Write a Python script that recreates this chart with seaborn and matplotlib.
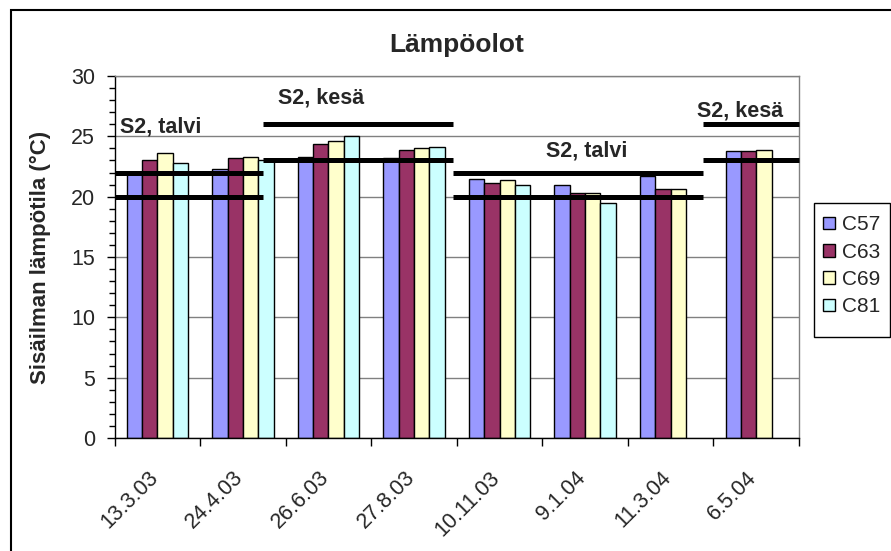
import matplotlib
matplotlib.use("Agg")
import matplotlib.pyplot as plt
import matplotlib.transforms as mtransforms
from matplotlib.patches import Patch, Rectangle
import numpy as np
import pandas as pd
import seaborn as sns

# Measurement dates and sensors
dates = ["13.3.03", "24.4.03", "26.6.03", "27.8.03", "10.11.03", "9.1.04", "11.3.04", "6.5.04"]
sensors = ["C57", "C63", "C69", "C81"]

# Indoor air temperature (°C) per sensor; None = no reading
c57 = [22.0, 22.3, 23.3, 23.2, 21.5, 21.0, 21.7, 23.8]
c63 = [23.0, 23.2, 24.4, 23.9, 21.1, 20.3, 20.6, 23.8]
c69 = [23.6, 23.3, 24.6, 24.0, 21.4, 20.3, 20.6, 23.9]
c81 = [22.8, 23.0, 25.0, 24.1, 21.0, 19.5, None, None]

# S2 target ranges by season: label, span in category units, lower and upper limit
season_labels = ["S2, talvi", "S2, kesä", "S2, talvi", "S2, kesä"]
season_start = [-0.5, 1.232, 3.46, 6.382]
season_end = [1.232, 3.46, 6.382, 7.5]
season_low = [20, 23, 20, 23]
season_high = [22, 26, 22, 26]

colors = ["#9999FF", "#993366", "#FFFFCC", "#CCFFFF"]

rows = []
for name, vals in zip(sensors, [c57, c63, c69, c81]):
    for d, v in zip(dates, vals):
        if v is not None:
            rows.append({"Päivä": d, "Anturi": name, "Lämpötila": v})
df = pd.DataFrame(rows)

sns.set_style("white")
plt.rcParams["font.family"] = ["Liberation Sans", "DejaVu Sans"]

fig = plt.figure(figsize=(8.91, 5.51), dpi=100)
ax = fig.add_axes([114.5 / 891, 1 - 438 / 551, (799 - 114.5) / 891, (438 - 76) / 551])

sns.barplot(
    data=df, x="Päivä", y="Lämpötila", hue="Anturi",
    order=dates, hue_order=sensors, palette=colors, saturation=1,
    width=0.717, edgecolor="black", linewidth=1.0,
    errorbar=None, legend=False, ax=ax, zorder=2,
)

ax.set_xlim(-0.5, len(dates) - 0.5)
ax.set_ylim(0, 30)
ax.set_yticks(np.arange(0, 31, 5))
ax.set_yticks(np.arange(0, 31, 1), minor=True)
ax.yaxis.grid(True, which="major", color="#808080", linewidth=1.0, zorder=0)
ax.set_axisbelow(True)
ax.set_xlabel("")
ax.set_ylabel("")

# Category boundaries carry the x tick marks
ax.set_xticks(np.arange(-0.5, len(dates), 1), minor=True)
ax.tick_params(axis="x", which="major", length=0, labelsize=15.5, pad=21)
ax.tick_params(axis="x", which="minor", length=6, width=1, color="black", direction="out", bottom=True)
ax.tick_params(axis="y", which="major", length=6, width=1, color="black", direction="out",
               labelsize=15.5, pad=8, left=True)
ax.tick_params(axis="y", which="minor", length=4, width=1, color="black", direction="out", left=True)

ax.set_xticks(range(len(dates)))
ax.set_xticklabels(dates, rotation=45, ha="right", va="top", rotation_mode="anchor")
shift = mtransforms.ScaledTranslation(-10 / 100, 0, fig.dpi_scale_trans)
for lab in ax.get_xticklabels():
    lab.set_transform(lab.get_transform() + shift)

for side in ["left", "bottom"]:
    ax.spines[side].set_color("black")
    ax.spines[side].set_linewidth(1.0)
for side in ["top", "right"]:
    ax.spines[side].set_color("#808080")
    ax.spines[side].set_linewidth(1.0)

# Seasonal target limits
for x0, x1, lo, hi in zip(season_start, season_end, season_low, season_high):
    ax.plot([x0, x1], [lo, lo], color="black", linewidth=3.6, solid_capstyle="butt", zorder=5, clip_on=False)
    ax.plot([x0, x1], [hi, hi], color="black", linewidth=3.6, solid_capstyle="butt", zorder=5, clip_on=False)

label_pos = [(-0.436, 25.8, "left"), (1.913, 28.2, "center"), (5.016, 23.75, "center"), (6.81, 27.07, "center")]
for text, (lx, ly, ha) in zip(season_labels, label_pos):
    ax.text(lx, ly, text, ha=ha, va="center", fontsize=15.5, fontweight="bold", zorder=6)

fig.text(457 / 891, 1 - 45 / 551, "Lämpöolot", ha="center", va="center", fontsize=19, fontweight="bold")
fig.text(40 / 891, 1 - 257 / 551, "Sisäilman lämpötila (°C)", ha="center", va="center",
         rotation=90, fontsize=16, fontweight="bold")

handles = [Patch(facecolor=c, edgecolor="black", linewidth=1.0) for c in colors]
leg = fig.legend(
    handles, sensors, loc="upper left", bbox_to_anchor=(814 / 891, 1 - 206 / 551),
    frameon=False, fontsize=15,
    handlelength=0.55, handleheight=0.55, handletextpad=0.35, labelspacing=0.4,
    borderpad=0.45, borderaxespad=0,
)

# Legend box
fig.patches.append(Rectangle((814 / 891, 1 - 337 / 551), (890 - 814) / 891, (337 - 203) / 551,
                             transform=fig.transFigure, fill=False, edgecolor="black", linewidth=1.0))

# Chart frame
fig.patches.append(Rectangle((11 / 891, -0.05), 1.2, 1 - 10 / 551 + 0.05, transform=fig.transFigure,
                             fill=False, edgecolor="black", linewidth=1.5))

fig.savefig("out.png", dpi=100)
